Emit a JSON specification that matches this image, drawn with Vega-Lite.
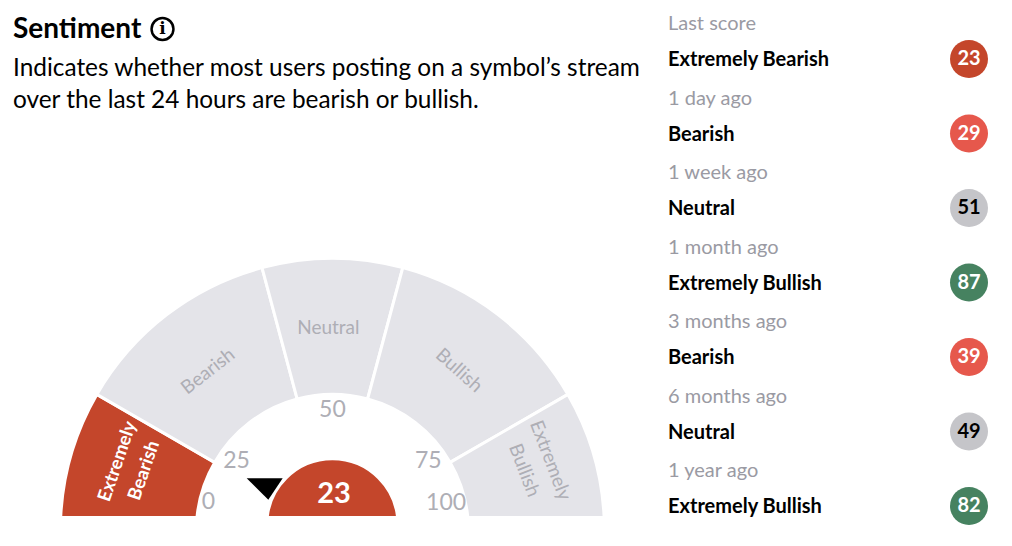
{
"$schema":"https://vega.github.io/schema/vega-lite/v6.json",
"padding":0,"background":"white","spacing":0,
"config":{"view":{"stroke":null},"font":"Lato","concat":{"spacing":0}},
"hconcat":[
{"spacing":0,"vconcat":[
{"width":668,"height":120,
 "encoding":{
   "x":{"datum":13,"type":"quantitative","scale":{"domain":[0,668],"nice":false},"axis":null},
   "y":{"field":"line","type":"ordinal","sort":null,"axis":null,"scale":{"type":"point","padding":0,"domain":["Sentiment","Indicates whether most users posting on a symbol’s stream","over the last 24 hours are bearish or bullish."],"range":[36.5,100.5]}}
 },
 "layer":[
 {"data":{"values":[{"line":"Sentiment"}]},
  "mark":{"type":"text","align":"left","baseline":"middle","color":"#000","fontSize":28,"fontWeight":"bold","yOffset":-6.5},
  "encoding":{"text":{"field":"line"}}},
 {"data":{"values":[
  {"line":"Indicates whether most users posting on a symbol’s stream"},
  {"line":"over the last 24 hours are bearish or bullish."}]},
  "mark":{"type":"text","align":"left","baseline":"middle","color":"#000","fontSize":24.4},
  "encoding":{"text":{"field":"line"}}},
 {"data":{"values":[{"line":"Sentiment"}]},
  "mark":{"type":"point","filled":false,"stroke":"#000","strokeWidth":2.5,"opacity":1,"shape":"circle","size":480,"yOffset":-7.5},
  "encoding":{"x":{"datum":162.5,"type":"quantitative"}}},
 {"data":{"values":[{"line":"Sentiment","icon":"i"}]},
  "mark":{"type":"text","align":"center","baseline":"middle","fontSize":17,"fontWeight":"bold","font":"DejaVu Serif","color":"#000","yOffset":-7.5},
  "encoding":{"x":{"datum":162.5,"type":"quantitative"},"text":{"field":"icon"}}}
 ]},
{"width":668,"height":396,
 "layer":[
 {"data":{"values":[
   {"sentiment":"Extremely Bearish","from":0,"to":25},
   {"sentiment":"Bearish","from":25,"to":45},
   {"sentiment":"Neutral","from":45,"to":55},
   {"sentiment":"Bullish","from":55,"to":75},
   {"sentiment":"Extremely Bullish","from":75,"to":100}]},
  "mark":{"type":"arc","radius":272,"radius2":136,"stroke":"white","strokeWidth":3,"clip":true},
  "encoding":{
   "x":{"datum":0,"type":"quantitative","scale":{"domain":[-332.4,335.6],"nice":false,"zero":false},"axis":null},
   "y":{"datum":0,"type":"quantitative","scale":{"domain":[14.4,410.4],"nice":false,"zero":false},"axis":null},
   "theta":{"field":"from","type":"quantitative","scale":{"domain":[0,25,45,55,75,100],"range":[-1.5708,-1.0472,-0.2618,0.2618,1.0472,1.5708]}},
   "theta2":{"field":"to"},
   "fill":{"field":"sentiment","type":"nominal","legend":null,"scale":{"domain":["Extremely Bearish","Bearish","Neutral","Bullish","Extremely Bullish"],"range":["#c4462b","#e4e4e9","#e4e4e9","#e4e4e9","#e4e4e9"]}}
  }},
 {"data":{"values":[
   {"band":"Bearish","mid":35},{"band":"Neutral","mid":50},{"band":"Bullish","mid":65},{"band":"Extremely\nBullish","mid":87.5}]},
  "mark":{"type":"text","align":"center","baseline":"middle","lineBreak":"\n","lineHeight":28,"fontSize":19,"color":"#aeaeb5"},
  "encoding":{
   "x":{"datum":0,"type":"quantitative"},
   "y":{"datum":0,"type":"quantitative"},
   "theta":{"field":"mid","type":"quantitative","scale":{"domain":[35,50,65,87.5],"range":[-0.663,-0.02,0.67,1.26]}},
   "radius":{"field":"mid","type":"quantitative","scale":{"type":"linear","zero":false,"domain":[35,50,65,87.5],"range":[202,202,204,229]}},
   "angle":{"field":"mid","type":"quantitative","scale":{"domain":[35,50,65,87.5],"range":[-38,0,42,69]}},
   "text":{"field":"band"}
  }},
 {"data":{"values":[{"band":"Extremely\nBearish","mid":12.5}]},
  "mark":{"type":"text","align":"center","baseline":"middle","lineBreak":"\n","lineHeight":28,"fontSize":18.5,"fontWeight":"bold","color":"#ffffff","theta":-1.26,"radius":226,"angle":-71},
  "encoding":{
   "x":{"datum":0,"type":"quantitative"},
   "y":{"datum":0,"type":"quantitative"},
   "text":{"field":"band"}
  }},
 {"data":{"values":[{"tick":0},{"tick":25},{"tick":50},{"tick":75},{"tick":100}]},
  "mark":{"type":"text","align":"center","baseline":"middle","fontSize":23,"color":"#aeaeb5"},
  "encoding":{
   "x":{"datum":0,"type":"quantitative"},
   "y":{"datum":0,"type":"quantitative"},
   "theta":{"field":"tick","type":"quantitative","scale":{"domain":[0,25,50,75,100],"range":[-1.349,-0.944,0,0.944,1.332]}},
   "radius":{"field":"tick","type":"quantitative","scale":{"type":"linear","zero":false,"domain":[0,25,50,75,100],"range":[127,118.4,120.4,118.4,117]}},
   "text":{"field":"tick","type":"quantitative"}
  }},
 {"data":{"values":[{"pointer":"current score"}]},
  "mark":{"type":"point","filled":true,"fill":"#000","stroke":null,"opacity":1,"shape":"M-1,-0.6 L1,-0.6 L0.2,0.6 Z","size":1296},
  "encoding":{"x":{"datum":-67.7,"type":"quantitative"},"y":{"datum":41.4,"type":"quantitative"}}},
 {"data":{"values":[{"score":23}]},
  "mark":{"type":"point","filled":true,"fill":"#c4462b","stroke":"white","strokeWidth":2,"opacity":1,"shape":"circle","size":16900,"clip":true},
  "encoding":{"x":{"datum":0,"type":"quantitative"},"y":{"datum":6.1,"type":"quantitative"}}},
 {"data":{"values":[{"score":23}]},
  "mark":{"type":"text","align":"center","baseline":"middle","fontSize":29,"fontWeight":"bold","color":"white"},
  "encoding":{"x":{"datum":1.6,"type":"quantitative"},"y":{"datum":36,"type":"quantitative"},"text":{"field":"score","type":"quantitative"}}}
 ],
 "resolve":{"scale":{"theta":"independent","radius":"independent","angle":"independent","fill":"independent"}}
}
]},
{"width":344,"height":546,
 "data":{"values":[
  {"period":"Last score","sentiment":"Extremely Bearish","score":23},
  {"period":"1 day ago","sentiment":"Bearish","score":29},
  {"period":"1 week ago","sentiment":"Neutral","score":51},
  {"period":"1 month ago","sentiment":"Extremely Bullish","score":87},
  {"period":"3 months ago","sentiment":"Bearish","score":39},
  {"period":"6 months ago","sentiment":"Neutral","score":49},
  {"period":"1 year ago","sentiment":"Extremely Bullish","score":82}]},
 "encoding":{
  "y":{"field":"period","type":"ordinal","sort":null,"axis":null,"scale":{"type":"point","padding":0,"domain":["Last score","1 day ago","1 week ago","1 month ago","3 months ago","6 months ago","1 year ago"],"range":[59,506]}}
 },
 "layer":[
 {"mark":{"type":"text","align":"left","baseline":"middle","fontSize":20,"color":"#9a9aa3","yOffset":-35},
  "encoding":{"x":{"datum":0,"type":"quantitative","scale":{"domain":[0,344],"nice":false},"axis":null},"text":{"field":"period"}}},
 {"mark":{"type":"text","align":"left","baseline":"middle","fontSize":20,"fontWeight":"bold","color":"#000","yOffset":1},
  "encoding":{"x":{"datum":0,"type":"quantitative"},"text":{"field":"sentiment"}}},
 {"mark":{"type":"point","filled":true,"opacity":1,"shape":"circle","size":1444},
  "encoding":{"x":{"datum":301,"type":"quantitative"},"fill":{"field":"sentiment","type":"nominal","legend":null,"scale":{"domain":["Extremely Bearish","Bearish","Neutral","Extremely Bullish"],"range":["#c4462b","#e6584c","#c5c5c9","#468260"]}}}},
 {"mark":{"type":"text","align":"center","baseline":"middle","fontSize":20,"fontWeight":"bold"},
  "encoding":{"x":{"datum":301,"type":"quantitative"},"text":{"field":"score","type":"quantitative"},
   "color":{"field":"sentiment","type":"nominal","legend":null,"scale":{"domain":["Extremely Bearish","Bearish","Neutral","Extremely Bullish"],"range":["#ffffff","#ffffff","#000000","#ffffff"]}}}}
 ],
 "resolve":{"scale":{"color":"independent"}}
}
]}
